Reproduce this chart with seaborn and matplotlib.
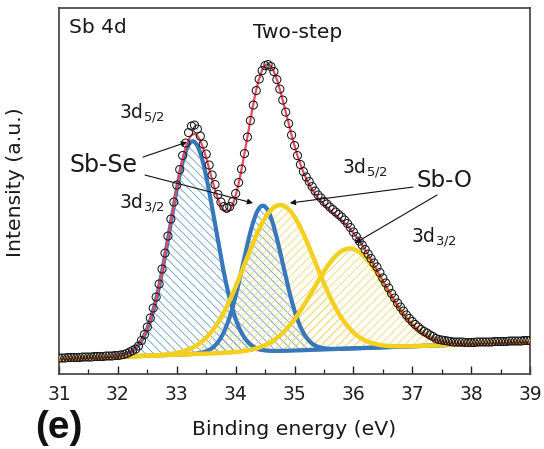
import numpy as np
import pandas as pd
import matplotlib
matplotlib.use("Agg")
import matplotlib.pyplot as plt
from matplotlib.ticker import MultipleLocator
import seaborn as sns

# ---------------- data ----------------
scan_start = 31.0          # eV
scan_step = 0.05           # eV
measured_intensity = [
    16, 16, 16, 16.5, 16.5, 16.5, 16.5, 16.5, 17, 17, 17, 17, 17.5, 17.5, 17.5, 17.5,
    18, 18, 18, 18.5, 18.5, 19, 19.5, 20.5, 22, 23.5, 25, 28, 33.5, 39.5, 47, 56,
    66, 77, 90, 105, 121, 138, 155, 172, 189, 204.5, 218.5, 231, 241.5, 248, 249, 245,
    238, 230, 220, 209, 199, 189.5, 179.5, 172, 167.5, 166, 167.5, 172.5, 180.5, 191.5,
    205, 220.5, 237, 253.5, 269, 283.5, 295, 303.5, 308.5, 309.5, 307.5, 302.5, 294.5, 285,
    274, 262, 250.5, 239, 228.5, 218.5, 209.5, 202.5, 197, 192.5, 187.5, 183, 179, 176,
    172.5, 170, 167, 164.5, 162, 159.5, 157, 154, 150.5, 146.5, 142, 137.5, 133, 129,
    124.5, 120, 115.5, 111, 107, 101.5, 96, 91, 86, 80.5, 76, 71, 67, 63, 59, 55.5,
    52.5, 49.5, 47, 44.5, 42.5, 41, 39, 37.5, 35.5, 34.5, 34, 33.5, 33, 32.5, 32, 32,
    32, 32, 31.5, 31.5, 31.5, 31.5, 32, 32, 32, 32, 32, 32, 32.5, 32.5, 32.5, 32.5,
    32.5, 33, 33, 33, 33, 33, 33.5, 33.5, 33.5,
]

peak_names = ["Sb-Se 3d5/2", "Sb-Se 3d3/2", "Sb-O 3d5/2", "Sb-O 3d3/2"]
peak_center = [33.27, 34.46, 34.75, 35.93]
peak_height = [213, 146, 146, 100]
peak_sigma = [0.38, 0.335, 0.595, 0.61]
peak_group = ["Sb-Se", "Sb-Se", "Sb-O", "Sb-O"]

bg_energy = [31.0, 39.0]
bg_intensity = [15.0, 32.0]

x_ticks = [31, 32, 33, 34, 35, 36, 37, 38, 39]

# ---------------- styling ----------------
sns.set_theme(style="white")
plt.rcParams["font.family"] = ["DejaVu Sans"]
plt.rcParams["mathtext.fontset"] = "dejavusans"
plt.rcParams["hatch.linewidth"] = 0.6

line_color = {"Sb-Se": "#3777bb", "Sb-O": "#f5cf1d"}
hatch_color = {"Sb-Se": "#6a9dcf", "Sb-O": "#f0d873"}
env_color = "#ea4a5c"

fig, ax = plt.subplots(figsize=(5.44, 4.49), dpi=100)
fig.subplots_adjust(left=0.1085, right=0.9743, bottom=0.167, top=0.982)

be_data = np.round(scan_start + scan_step * np.arange(len(measured_intensity)), 3)
df = pd.DataFrame({"be": be_data, "intensity": measured_intensity})

grid = np.linspace(31.0, 39.0, 801)
bg = np.interp(grid, bg_energy, bg_intensity)

components = []
for name, c, h, s, g in zip(peak_names, peak_center, peak_height, peak_sigma, peak_group):
    comp = bg + h * np.exp(-0.5 * ((grid - c) / s) ** 2)
    components.append((name, g, comp))

# hatched fills first
for name, g, comp in components:
    ax.fill_between(grid, bg, comp, facecolor="none", edgecolor=hatch_color[g],
                    hatch="////" if g == "Sb-O" else "\\\\\\\\", linewidth=0, zorder=1)

# component lines: blue first, then yellow
for grp in ["Sb-Se", "Sb-O"]:
    for name, g, comp in components:
        if g != grp:
            continue
        sns.lineplot(x=grid, y=comp, ax=ax, color=line_color[g],
                     lw=3.0 if g == "Sb-Se" else 3.2, sort=False, estimator=None,
                     zorder=2 if g == "Sb-Se" else 3)

# envelope
envelope = bg.copy()
for name, g, comp in components:
    envelope += comp - bg
sns.lineplot(x=grid, y=envelope, ax=ax, color=env_color, lw=1.6, sort=False,
             estimator=None, zorder=4)

# measured points
sns.scatterplot(data=df, x="be", y="intensity", ax=ax, marker="o", s=34,
                facecolors="none", edgecolor="#1a1a1a", linewidth=0.75, zorder=5)

# ---------------- axes ----------------
ax.set_xlim(31, 39)
ax.set_ylim(0, 366)
ax.set_xticks(x_ticks)
ax.set_xticklabels([str(t) for t in x_ticks])
ax.xaxis.set_minor_locator(MultipleLocator(0.5))
ax.tick_params(axis="x", which="major", direction="in", length=6, width=1.0,
               pad=8, labelsize=13.5, colors="#222222", bottom=True, top=False)
ax.tick_params(axis="x", which="minor", direction="in", length=3.5, width=0.9,
               bottom=True, top=False, color="#222222")
ax.tick_params(axis="y", left=False, labelleft=False)
for sp in ax.spines.values():
    sp.set_color("#404040")
    sp.set_linewidth(1.2)

ax.set_xlabel("Binding energy (eV)", fontsize=14.7, color="#1a1a1a")
ax.xaxis.set_label_coords(0.5, -0.125)
ax.set_ylabel("Intensity (a.u.)", fontsize=14.7, color="#1a1a1a")
ax.yaxis.set_label_coords(-0.072, 0.525)

# ---------------- annotations ----------------
tc = "#1a1a1a"
ax.text(31.17, 341, "Sb 4d", fontsize=14.5, color=tc, va="baseline")
ax.text(34.295, 336, "Two-step", fontsize=14.5, color=tc, va="baseline")
ax.text(32.02, 256, r"3d$_{5/2}$", fontsize=13.5, color=tc, va="baseline")
ax.text(31.17, 202, "Sb-Se", fontsize=17, color=tc, va="baseline")
ax.text(32.02, 166, r"3d$_{3/2}$", fontsize=13.5, color=tc, va="baseline")
ax.text(35.807, 201, r"3d$_{5/2}$", fontsize=13.5, color=tc, va="baseline")
ax.text(37.08, 187, "Sb-O", fontsize=16.5, color=tc, va="baseline")
ax.text(36.98, 132, r"3d$_{3/2}$", fontsize=13.5, color=tc, va="baseline")

arrows = [((32.427, 217), (33.174, 232)),
          ((32.46, 199), (34.295, 171)),
          ((37.013, 187), (34.92, 171)),
          ((37.42, 179), (36.03, 131))]
for tail, head in arrows:
    ax.annotate("", xy=head, xytext=tail,
                arrowprops=dict(arrowstyle="-|>", color="#111111", lw=0.8,
                                mutation_scale=8, shrinkA=0, shrinkB=0),
                zorder=6)

fig.text(35 / 544, 0.024, "(e)", fontsize=28, fontweight="bold",
         family=["Liberation Sans", "DejaVu Sans"], color="#111111", va="baseline")

fig.savefig("out.png", dpi=100)
